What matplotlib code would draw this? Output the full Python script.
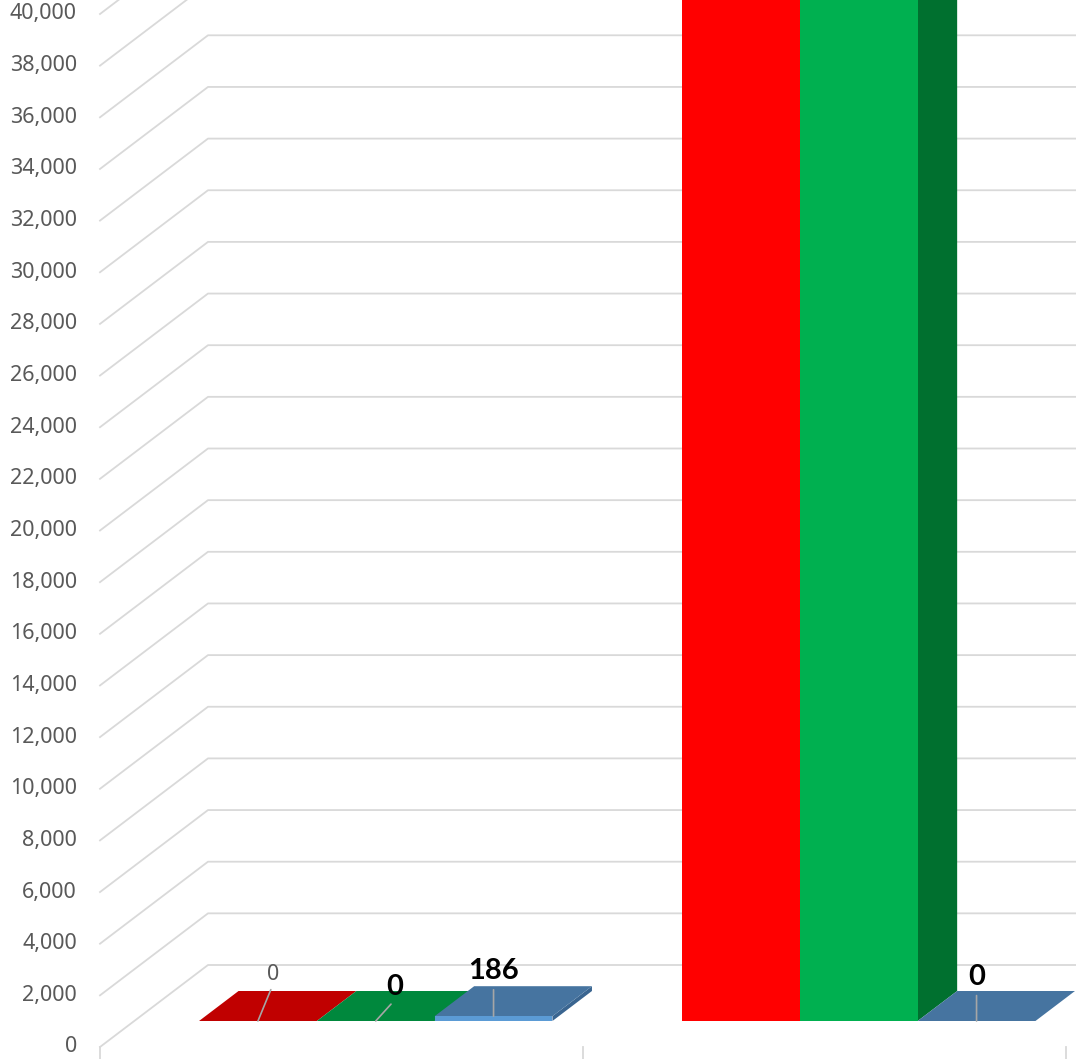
import matplotlib.pyplot as plt
from matplotlib.patches import Polygon

plt.rcParams['font.family'] = ['Noto Sans', 'DejaVu Sans']

# ── data ───────────────────────────────────────────────────────────────────────

n_groups    = 2
red_vals    = [0, 48000]
green_vals  = [0, 48000]
blue_vals   = [186, 0]
y_ticks     = list(range(0, 40001, 2000))

front_colors = ["#FF0000", "#00B050", "#5B9BD5"]
top_colors   = ["#C00000", "#00883D", "#4674A0"]
side_colors  = ["#A00000", "#00702F", "#3A6590"]

# which bars get a data label: (series, group, offset px, size, weight, color)
labels = [
    (0, 0, (15, 47), 15.5, "normal", "#595959"),
    (1, 0, (19, 34), 21,   "bold",   "black"),
    (2, 0, (0, 45),  21,   "bold",   "black"),
    (2, 1, (0, 44),  21,   "bold",   "black"),
]

# ── geometry ───────────────────────────────────────────────────────────────────

PX_PER_CAT = 483
VAL_PER_PX = 40000 / 1033
X_MIN, X_MAX = -100 / PX_PER_CAT, 976 / PX_PER_CAT
Y_MIN, Y_MAX = -12 * VAL_PER_PX, 1047 * VAL_PER_PX

DX = 108 / PX_PER_CAT          # floor depth, in category units
DY = 82 * VAL_PER_PX           # floor depth, in value units
T0, T1 = 26 / 82, 56 / 82     # front/back of the bars as fraction of depth
GAP = 1.1
W = 1 / (3 + GAP)

GRID = "#D9D9D9"
LEADER = "#A6A6A6"

fig = plt.figure(figsize=(10.76, 10.59), dpi=100)
ax = fig.add_axes([0, 0, 1, 1])
ax.set_xlim(X_MIN, X_MAX)
ax.set_ylim(Y_MIN, Y_MAX)
ax.axis("off")

# walls: side-wall slant + back-wall horizontal for each tick
for v in y_ticks:
    ax.plot([0, DX, n_groups + DX], [v, v + DY, v + DY], color=GRID, lw=1.3, zorder=1)
    ax.text(-23 / PX_PER_CAT, v, f"{v:,}", ha="right", va="center",
            fontsize=15.5, color="#595959")

# category tick marks under the floor
for c in range(n_groups + 1):
    ax.plot([c, c], [0, Y_MIN], color=GRID, lw=1.3, zorder=1)

# ── bars ───────────────────────────────────────────────────────────────────────

series = [red_vals, green_vals, blue_vals]
ox0, oy0 = DX * T0, DY * T0
ox1, oy1 = DX * T1, DY * T1
z = 2
for g in range(n_groups):
    for i, vals in enumerate(series):
        h = vals[g]
        xl = g + GAP * W / 2 + i * W + ox0
        xr = xl + W
        side = [(xr, oy0), (xr + ox1 - ox0, oy1), (xr + ox1 - ox0, h + oy1), (xr, h + oy0)]
        top = [(xl, h + oy0), (xr, h + oy0), (xr + ox1 - ox0, h + oy1), (xl + ox1 - ox0, h + oy1)]
        front = [(xl, oy0), (xr, oy0), (xr, h + oy0), (xl, h + oy0)]
        ax.add_patch(Polygon(side, closed=True, fc=side_colors[i], ec="none", zorder=z))
        ax.add_patch(Polygon(top, closed=True, fc=top_colors[i], ec="none", zorder=z + 1))
        ax.add_patch(Polygon(front, closed=True, fc=front_colors[i], ec="none", zorder=z + 2))
        z += 3

# ── data labels with leader lines ─────────────────────────────────────────────

for i, g, off, size, weight, color in labels:
    h = series[i][g]
    anchor = (g + GAP * W / 2 + i * W + W / 2 + ox0, h + oy0)
    fam = ["Lato", "DejaVu Sans"] if weight == "bold" else ["Noto Sans", "DejaVu Sans"]
    ax.annotate(f"{h:,}", xy=anchor, xytext=off, textcoords="offset pixels",
                ha="center", va="center", fontsize=size, fontweight=weight,
                family=fam, color=color, zorder=50,
                arrowprops=dict(arrowstyle="-", color=LEADER, lw=1.2,
                                relpos=(0.5, 0), patchA=None,
                                shrinkA=4, shrinkB=0))

plt.savefig("out.png", dpi=100)
